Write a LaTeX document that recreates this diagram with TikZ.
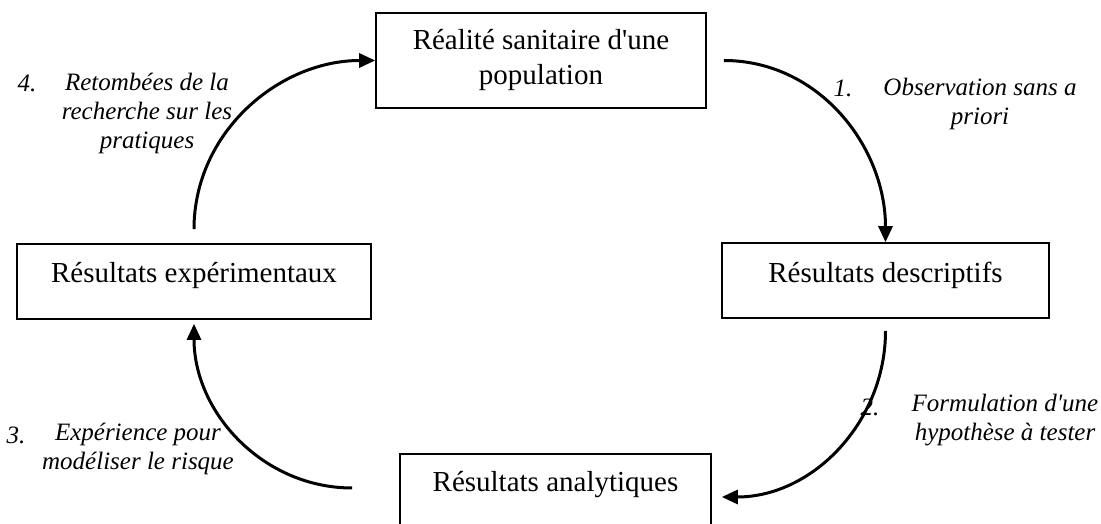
\documentclass[tikz,border=0pt]{standalone}
\usepackage{fontspec}
\setmainfont{Liberation Serif}
\usetikzlibrary{arrows.meta}

\tikzset{
  box/.style={draw, line width=1.6pt, rectangle, align=center, inner sep=0pt,
    font=\fontsize{29}{35}\selectfont, text height=20pt, text depth=15pt},
  note/.style={align=center, inner sep=0pt, font=\itshape\fontsize{25}{29}\selectfont},
  num/.style={inner sep=0pt, font=\itshape\fontsize{25}{29}\selectfont}
}

\begin{document}
\begin{tikzpicture}[x=1pt, y=1pt,
    every edge/.style={draw, line width=3pt, -{Triangle[length=16pt,width=14pt]}}]
  \useasboundingbox (0,0) rectangle (1101,524);

  % the four stages of the cycle
  \node[box, minimum width=330pt, minimum height=95pt, text height=55pt, text depth=6pt] (real) at (541,463.5)
       {Réalité sanitaire d\textquotesingle une\\population};
  \node[box, minimum width=327pt, minimum height=75pt] (desc) at (885.5,243.5)
       {Résultats descriptifs};
  \node[box, minimum width=311pt, minimum height=77pt, text depth=21pt] (ana) at (555.5,31.5)
       {Résultats analytiques};
  \node[box, minimum width=354pt, minimum height=75pt, text depth=17pt] (exp) at (194,242.5)
       {Résultats expérimentaux};

  % curved links
  \path ([xshift=17pt]real.east) edge[out=0, in=90] (desc.north)
        ([yshift=-12pt]desc.south) edge[out=-90, in=0] ([xshift=10pt,yshift=-4.5pt]ana.east)
        ([xshift=-47pt,yshift=4.5pt]ana.west) edge[out=180, in=-90] ([yshift=-4pt]exp.south)
        ([yshift=14pt]exp.north) edge[out=90, in=180] (real.west);

  % numbered comments
  \node[num] (n1) at (843,436) {1.};
  \node[note] (t1) at (980,420) {Observation sans a\\priori};
  \node[num] (n2) at (870,117) {2.};
  \node[note] (t2) at (1005,104) {Formulation d\textquotesingle une\\hypothèse à tester};
  \node[num] (n3) at (16,89) {3.};
  \node[note] (t3) at (138,75) {Expérience pour\\modéliser le risque};
  \node[num] (n4) at (27,441) {4.};
  \node[note] (t4) at (147,411) {Retombées de la\\recherche sur les\\pratiques};
\end{tikzpicture}
\end{document}
